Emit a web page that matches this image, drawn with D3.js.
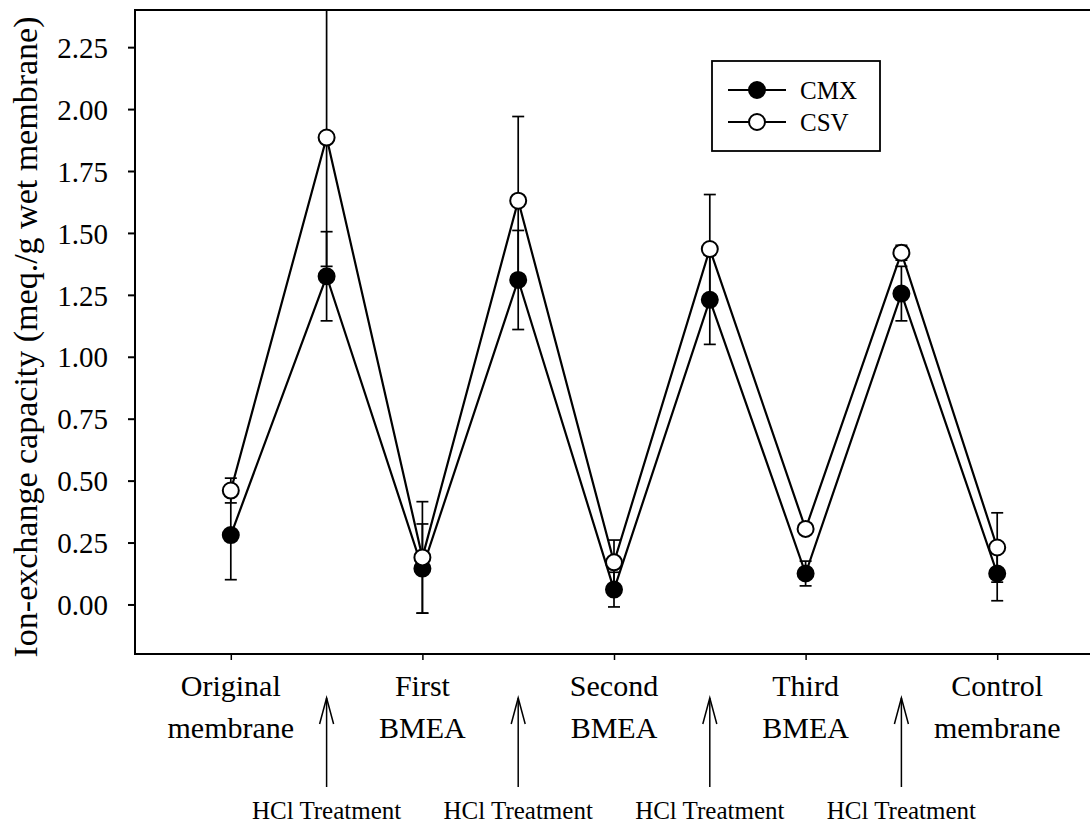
<!DOCTYPE html>
<html>
<head>
<meta charset="utf-8">
<script src="https://cdn.jsdelivr.net/npm/d3@7"></script>
<style>
  html, body { margin: 0; padding: 0; background: #fff; }
  svg { display: block; }
  text { font-family: "Liberation Serif", "DejaVu Serif", serif; fill: #000; }
</style>
</head>
<body>
<svg id="chart" width="1090" height="826"></svg>
<script>
// ---- data ----
const positions = [0, 1, 2, 3, 4, 5, 6, 7, 8];
const stageIdx = [0, 2, 4, 6, 8];
const stageLabels = [["Original", "membrane"], ["First", "BMEA"], ["Second", "BMEA"], ["Third", "BMEA"], ["Control", "membrane"]];
const treatmentIdx = [1, 3, 5, 7];
const treatmentLabel = "HCl Treatment";
const seriesNames = ["CMX", "CSV"];
const cmxValues = [0.28, 1.325, 0.145, 1.31, 0.06, 1.23, 0.125, 1.255, 0.125];
const cmxErrors = [0.18, 0.18, 0.18, 0.20, 0.07, 0.18, 0.05, 0.11, 0.11];
const csvValues = [0.46, 1.885, 0.19, 1.63, 0.17, 1.435, 0.305, 1.42, 0.23];
const csvErrors = [0.05, 0.52, 0.225, 0.34, 0.09, 0.22, 0.02, 0.03, 0.14];
const yTicks = [0, 0.25, 0.5, 0.75, 1.0, 1.25, 1.5, 1.75, 2.0, 2.25];
const yTitle = "Ion-exchange capacity (meq./g wet membrane)";

// ---- layout ----
const svg = d3.select("#chart");
const mLeft = 135, mTop = 10, mBottom = 654, mRight = 1093;
const x = d3.scaleLinear().domain([-1, 9]).range([mLeft, mRight]);
const y = d3.scaleLinear().domain([-0.2, 2.4]).range([mBottom, mTop]);

svg.append("defs").append("clipPath").attr("id", "plotclip")
  .append("rect").attr("x", mLeft).attr("y", mTop).attr("width", mRight - mLeft).attr("height", mBottom - mTop);

// frame
svg.append("rect").attr("x", mLeft).attr("y", mTop).attr("width", mRight - mLeft).attr("height", mBottom - mTop)
  .attr("fill", "none").attr("stroke", "#000").attr("stroke-width", 2);

// y axis
const yAxis = svg.append("g").attr("transform", `translate(${mLeft},0)`)
  .call(d3.axisLeft(y).tickValues(yTicks).tickSize(7).tickPadding(20).tickFormat(d3.format(".2f")));
yAxis.select(".domain").remove();
yAxis.selectAll(".tick line").attr("stroke", "#000").attr("stroke-width", 2);
yAxis.selectAll(".tick text").attr("font-size", 29).attr("dy", "0.35em").style("font-family", "Liberation Serif");

// x axis ticks
const xAxis = svg.append("g").attr("transform", `translate(0,${mBottom})`)
  .call(d3.axisBottom(x).tickValues(stageIdx).tickSize(6).tickFormat(""));
xAxis.select(".domain").remove();
xAxis.selectAll(".tick line").attr("stroke", "#000").attr("stroke-width", 1.5);

// stage labels
stageIdx.forEach((idx, i) => {
  const t = svg.append("text").attr("x", x(idx)).attr("text-anchor", "middle").attr("font-size", 30);
  t.append("tspan").attr("x", x(idx)).attr("y", 696).text(stageLabels[i][0]);
  t.append("tspan").attr("x", x(idx)).attr("y", 738).text(stageLabels[i][1]);
});

// treatment arrows and labels
treatmentIdx.forEach(idx => {
  const cx = x(idx);
  const g = svg.append("g").attr("stroke", "#000").attr("stroke-width", 1.5).attr("fill", "none");
  g.append("line").attr("x1", cx).attr("x2", cx).attr("y1", 698).attr("y2", 787);
  g.append("path").attr("d", `M${cx - 7},${724} L${cx},${698} L${cx + 7},${724}`);
  svg.append("text").attr("x", cx).attr("y", 819).attr("text-anchor", "middle").attr("font-size", 25)
    .text(treatmentLabel);
});

// y title
svg.append("text").attr("transform", `translate(37,${337}) rotate(-90)`)
  .attr("text-anchor", "middle").attr("font-size", 34).text(yTitle);

// series
const series = [
  { name: seriesNames[0], values: cmxValues, errors: cmxErrors, fill: "#000" },
  { name: seriesNames[1], values: csvValues, errors: csvErrors, fill: "#fff" }
];
const plot = svg.append("g").attr("clip-path", "url(#plotclip)");
const line = d3.line().x((d, i) => x(positions[i])).y(d => y(d));

series.forEach(s => {
  const g = plot.append("g");
  g.append("path").datum(s.values).attr("d", line).attr("fill", "none")
    .attr("stroke", "#000").attr("stroke-width", 2.2);
  const eb = g.append("g").attr("stroke", "#000").attr("stroke-width", 1.7);
  s.values.forEach((v, i) => {
    const cx = x(positions[i]);
    const hi = y(v + s.errors[i]), lo = y(v - s.errors[i]);
    eb.append("line").attr("x1", cx).attr("x2", cx).attr("y1", hi).attr("y2", lo);
    eb.append("line").attr("x1", cx - 6).attr("x2", cx + 6).attr("y1", hi).attr("y2", hi);
    eb.append("line").attr("x1", cx - 6).attr("x2", cx + 6).attr("y1", lo).attr("y2", lo);
  });
  g.selectAll("circle").data(s.values).join("circle")
    .attr("cx", (d, i) => x(positions[i])).attr("cy", d => y(d)).attr("r", 8)
    .attr("fill", s.fill).attr("stroke", "#000").attr("stroke-width", 2);
});

// legend
const lg = svg.append("g");
lg.append("rect").attr("x", 712).attr("y", 61).attr("width", 168).attr("height", 90)
  .attr("fill", "#fff").attr("stroke", "#000").attr("stroke-width", 1.8);
series.forEach((s, i) => {
  const ly = 90 + i * 32;
  lg.append("line").attr("x1", 728).attr("x2", 786).attr("y1", ly).attr("y2", ly)
    .attr("stroke", "#000").attr("stroke-width", 2);
  lg.append("circle").attr("cx", 757).attr("cy", ly).attr("r", 8)
    .attr("fill", s.fill).attr("stroke", "#000").attr("stroke-width", 2);
  lg.append("text").attr("x", 800).attr("y", ly + 9).attr("font-size", 25).text(s.name);
});
</script>
</body>
</html>
